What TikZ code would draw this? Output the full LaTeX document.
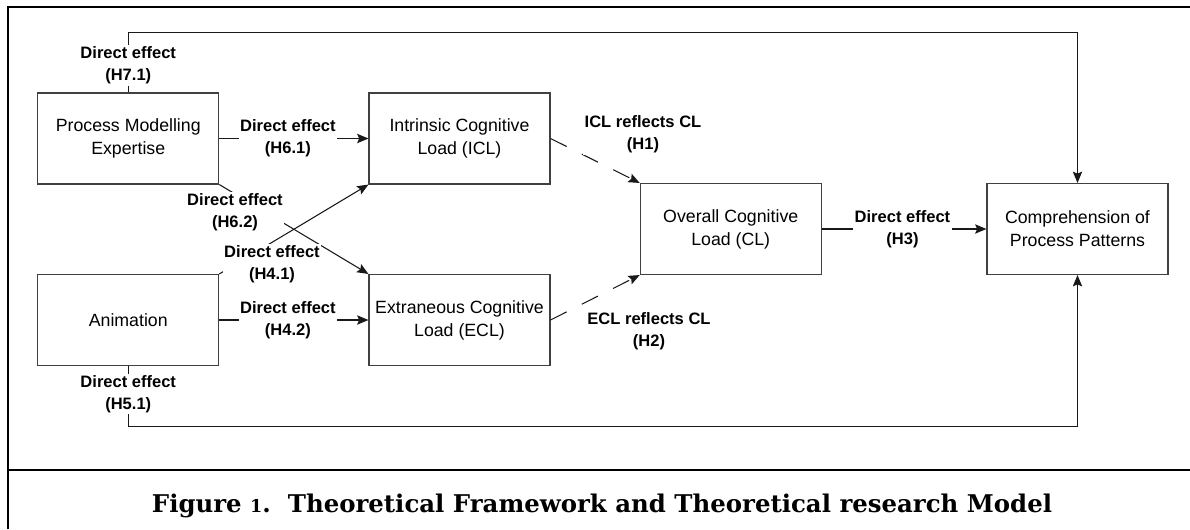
\documentclass[tikz,border=0pt]{standalone}
\usepackage{fontspec}
\usepackage{graphicx}
\setmainfont{Liberation Sans}
\newfontfamily\titlefont{DejaVu Serif}
\usetikzlibrary{arrows.meta}

\begin{document}
\begin{tikzpicture}[x=0.75pt,y=-0.75pt,
  box/.style={draw=black!75, line width=0.8pt, minimum width=135.75pt,
    minimum height=68.25pt, inner sep=0pt, align=center,
    font=\fontsize{13.3}{17.25}\selectfont},
  lbl/.style={fill=white, inner sep=1pt, align=center,
    font=\fontsize{12.4}{16.5}\selectfont\bfseries},
  link/.style={draw=black!90, line width=0.8pt,
    -{Stealth[length=8.5pt,width=7pt,inset=1.5pt]}},
  dashlink/.style={link, dash pattern=on 13.5pt off 12.75pt},
  frameline/.style={line width=1.5pt},
]
\useasboundingbox (0,0) rectangle (1190,529);

% outer frame and caption separator
\draw[frameline] (7.7,529) -- (7.7,7) -- (1190,7);
\draw[frameline] (7.7,470) -- (1190,470);

% constructs
\node[box] (pme) at (128.25,138.5) {Process Modelling\\Expertise};
\node[box] (ani) at (128.25,320) {Animation};
\node[box] (icl) at (459.5,138.5) {Intrinsic Cognitive\\Load (ICL)};
\node[box] (ecl) at (459.5,320) {Extraneous Cognitive\\Load (ECL)};
\node[box] (cl)  at (730.75,229) {Overall Cognitive\\Load (CL)};
\node[box] (cpp) at (1077.5,229) {Comprehension of\\Process Patterns};

% direct effects on the loads
\draw[link] (pme.east) -- node[lbl,pos=0.46] (h61) {Direct effect\\(H6.1)} (icl.west);
\draw[link] (ani.east) -- node[lbl,pos=0.46] (h42) {Direct effect\\(H4.2)} (ecl.west);
\draw[link] (pme.south east) -- (ecl.north west);
\draw[link] (ani.north east) -- (icl.south west);
\node[lbl] (h62) at (235,212) {Direct effect\\(H6.2)};
\node[lbl] (h41) at (272,264) {Direct effect\\(H4.1)};

% reflective paths into overall load
\draw[dashlink] (icl.east) -- (cl.north west);
\draw[dashlink] (ecl.east) -- (cl.south west);
\node[lbl] (h1) at (643,134.5) {ICL reflects CL\\(H1)};
\node[lbl] (h2) at (649,331) {ECL reflects CL\\(H2)};

% overall load to comprehension
\draw[link] (cl.east) -- node[lbl,pos=0.49] (h3) {Direct effect\\(H3)} (cpp.west);

% outer direct paths
\draw[link] (pme.north) -- node[lbl,pos=0.45] (h71) {Direct effect\\(H7.1)} ++(0,-60) -| (cpp.north);
\draw[link] (ani.south) -- node[lbl,pos=0.47] (h51) {Direct effect\\(H5.1)} ++(0,60) -| (cpp.south);

% caption
\node[anchor=base, inner sep=0pt, font=\titlefont\bfseries\fontsize{18.3}{22}\selectfont] (title) at (602,512)
  {Figure \scalebox{0.72}{1}.\ \ Theoretical Framework and Theoretical research Model};
\end{tikzpicture}
\end{document}
